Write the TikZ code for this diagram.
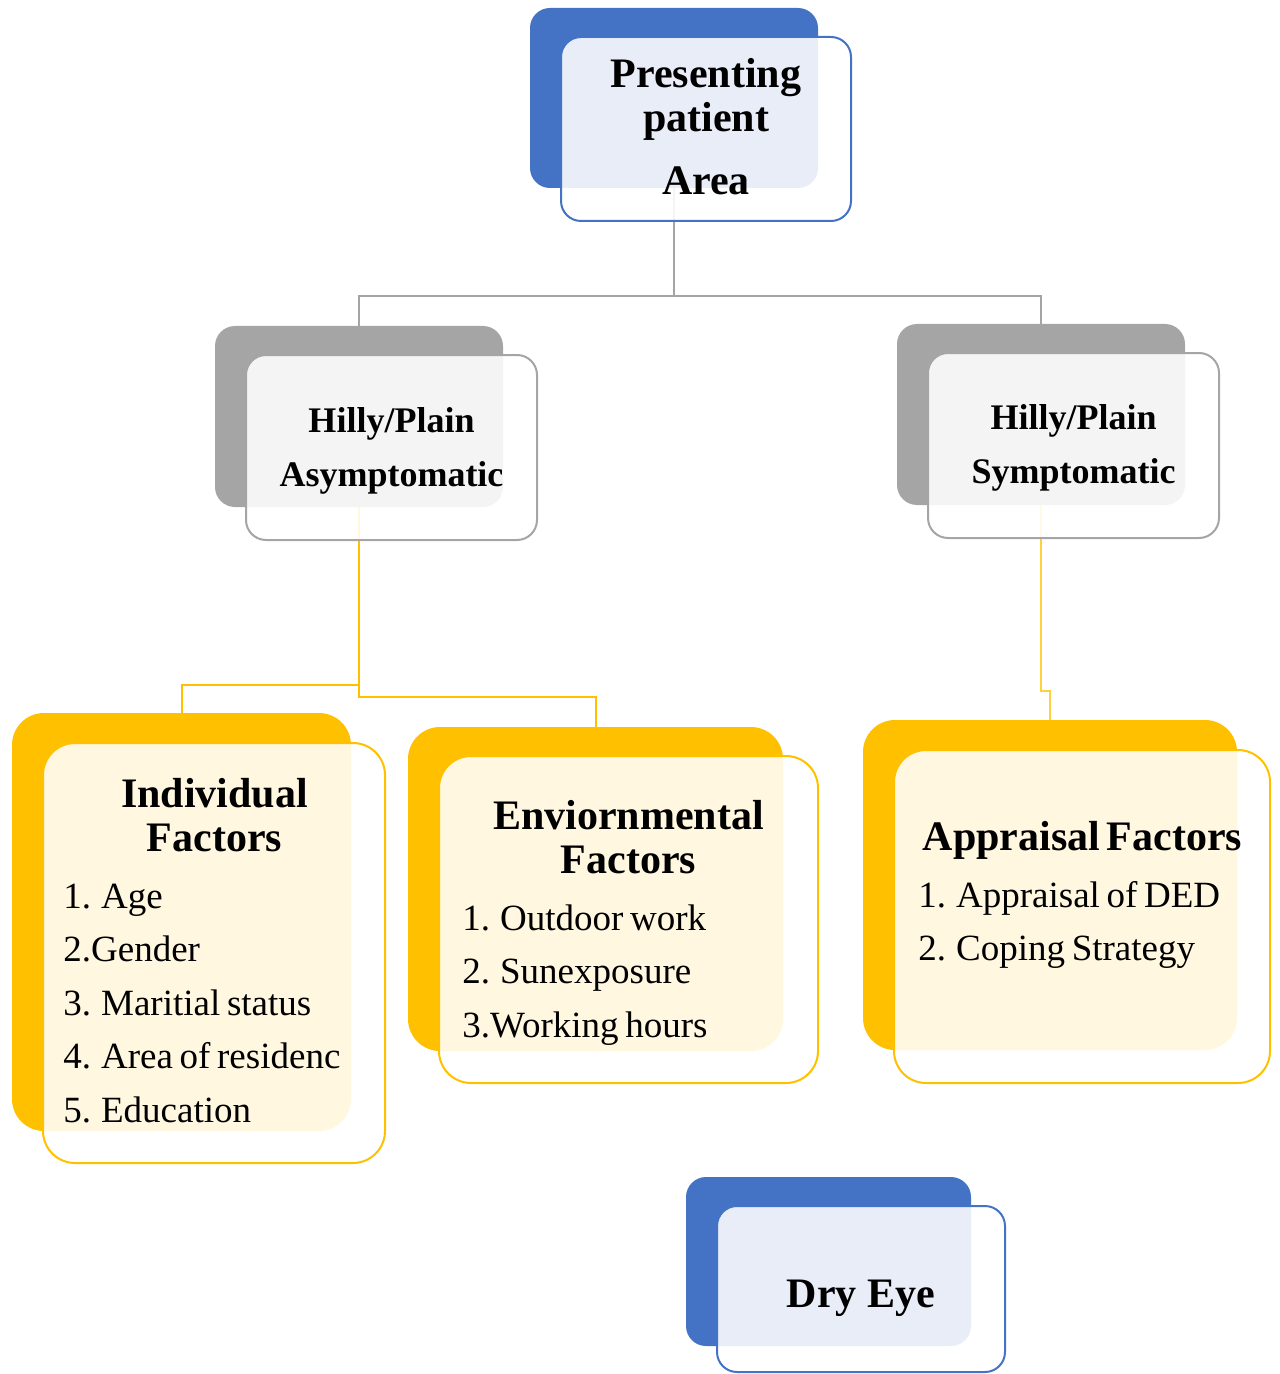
\documentclass[tikz,border=0pt]{standalone}
\usepackage{fontspec}
\setmainfont{Liberation Serif}
\usetikzlibrary{backgrounds}
\definecolor{boxblue}{HTML}{4472C4}
\definecolor{boxgray}{HTML}{A5A5A5}
\definecolor{boxyellow}{HTML}{FFC000}
\newcommand{\hdfont}{\fontsize{21}{22}\selectfont\bfseries}
\newcommand{\sbfont}{\fontsize{18}{27}\selectfont\bfseries}
\newcommand{\lsfont}{\fontsize{18.5}{26.8}\selectfont}

\begin{document}
\begin{tikzpicture}[
  x=0.5pt, y=-0.5pt, % one unit is one pixel of the sketch, y grows downwards
  back node/.style={rectangle,rounded corners=10pt,inner sep=0pt}, % coloured block behind each box
  front node/.style={rectangle,rounded corners=10pt,draw,line width=1pt,fill=white,fill opacity=0.88,inner sep=0pt}, % see-through box on top
  head text/.style={align=center,font=\hdfont,anchor=base}, % base = last line
  sub text/.style={align=center,font=\sbfont,anchor=base},
  list text/.style={align=left,anchor=base west,inner sep=0pt}, % base = first line
  gray line/.style={draw=boxgray,line width=1.25pt},
  yellow line/.style={draw=boxyellow,line width=1pt}
  ]
  \useasboundingbox (0,0) rectangle (1279,1374);

  % top box
  \node[back node,fill=boxblue,minimum width=144pt,minimum height=90pt] (topbk) at (674,98) {};
  \node[front node,draw=boxblue,minimum width=145pt,minimum height=92pt] (topfr) at (706,129) {};
  \node[head text] (toptxt) at (706,195) {Presenting\\patient\\[9.5pt]Area};

  % second row
  \node[back node,fill=boxgray,minimum width=144pt,minimum height=90.5pt] (asymbk) at (359,416.5) {};
  \node[front node,draw=boxgray,minimum width=145.5pt,minimum height=92.5pt] (asymfr) at (391.5,447.5) {};
  \node[sub text] (asymtxt) at (391.5,486) {Hilly/Plain\\Asymptomatic};

  \node[back node,fill=boxgray,minimum width=144pt,minimum height=90.5pt] (sympbk) at (1041,414.5) {};
  \node[front node,draw=boxgray,minimum width=145.5pt,minimum height=92.5pt] (sympfr) at (1073.5,445.5) {};
  \node[sub text] (symptxt) at (1073.5,483) {Hilly/Plain\\Symptomatic};

  % factor boxes
  \node[back node,rounded corners=16pt,fill=boxyellow,minimum width=169.5pt,minimum height=209pt] (indivbk) at (181.5,922) {};
  \node[front node,rounded corners=16pt,draw=boxyellow,minimum width=171pt,minimum height=210pt] (indivfr) at (214,953) {};
  \node[list text,text width=151pt] (indivtxt) at (63,807)
    {{\centering\hdfont Individual\\Factors\par}\vspace{1.7pt}\lsfont
     1. Age\\2.Gender\\3. Maritial status\\4. Area of residenc\\5. Education\par};

  \node[back node,rounded corners=16pt,fill=boxyellow,minimum width=187.5pt,minimum height=162pt] (envbk) at (595.5,889) {};
  \node[front node,rounded corners=16pt,draw=boxyellow,minimum width=189.5pt,minimum height=163.5pt] (envfr) at (628.5,919.5) {};
  \node[list text,text width=166pt] (envtxt) at (462,829)
    {{\centering\hdfont Enviornmental\\Factors\par}\vspace{1.7pt}\lsfont
     1. Outdoor work\\2. Sunexposure\\3.Working hours\par};

  \node[back node,rounded corners=16pt,fill=boxyellow,minimum width=187pt,minimum height=165pt] (apprbk) at (1050,885) {};
  \node[front node,rounded corners=16pt,draw=boxyellow,minimum width=188pt,minimum height=166.5pt] (apprfr) at (1082,916.5) {};
  \node[list text,text width=164pt] (apprtxt) at (918,850)
    {{\centering\hdfont Appraisal Factors\par}\vspace{1.7pt}\lsfont
     1. Appraisal of DED\\2. Coping Strategy\par};

  % bottom box
  \node[back node,fill=boxblue,minimum width=142.5pt,minimum height=84.5pt] (drybk) at (828.5,1261.5) {};
  \node[front node,draw=boxblue,minimum width=144pt,minimum height=83pt] (dryfr) at (861,1289) {};
  \node[head text] (drytxt) at (861,1307) {Dry Eye};

  % connectors, behind the boxes
  \begin{scope}[on background layer]
    \coordinate (topsplit) at (674,296);
    \coordinate (asymsplit) at (359,685);
    \coordinate (envsplit) at (359,697);
    \coordinate (sympsplit) at (1041,691);
    \draw[gray line] (topbk.south) -- (topsplit) -| (asymbk.north);
    \draw[gray line] (topsplit) -| (sympbk.north);
    \draw[yellow line] (asymbk.south) -- (asymsplit) -| (indivbk.north);
    \draw[yellow line] (asymsplit) -- (envsplit) -| (envbk.north);
    \draw[yellow line,draw=boxyellow!75,line width=0.75pt] (sympbk.south) -- (sympsplit) -| (apprbk.north);
  \end{scope}
\end{tikzpicture}
\end{document}
